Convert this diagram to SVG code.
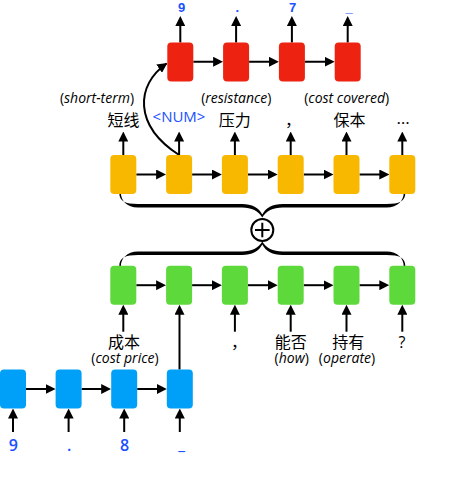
<svg xmlns="http://www.w3.org/2000/svg" width="450" height="486" viewBox="0 0 450 486">
<style>
.red{fill:#ee2211}.yel{fill:#f8b800}.grn{fill:#5dd93b}.blu{fill:#00a0f8}
.ln{stroke:#000;stroke-width:2;fill:none}
.arr{marker-end:url(#ah)}
.t{font-family:"Open Sans","Noto Sans CJK SC",sans-serif;font-size:14px;fill:#000;text-anchor:middle}
.zh{font-family:"Noto Sans CJK SC",sans-serif;font-size:16px;fill:#000;text-anchor:middle}
.en{font-family:"Open Sans","Noto Sans CJK SC",sans-serif;font-size:14px}
.num{font-family:"Open Sans",sans-serif;font-weight:600;fill:#1a50ff;text-anchor:middle}
.top{font-family:"Liberation Sans",sans-serif;font-weight:bold;font-size:13px;fill:#1a50ff;text-anchor:middle}
.it{font-style:italic}
</style>
<defs>
<marker id="ah" viewBox="0 0 10 10" refX="5" refY="5" markerWidth="10" markerHeight="10" markerUnits="userSpaceOnUse" orient="auto"><path d="M0,0 L10,5 L0,10 z" fill="#000"/></marker>
<marker id="ah2" viewBox="0 0 10 10" refX="9" refY="5" markerWidth="10" markerHeight="10" markerUnits="userSpaceOnUse" orient="auto"><path d="M0,0 L10,5 L0,10 z" fill="#000"/></marker>
<path id="brace" d="M119.3,193 C119.3,201 125,204 138,204 L242,204 C252,204 259,208 262.3,214.5 C265.6,208 272.6,204 282.6,204 L386.6,204 C399.6,204 405.3,201 405.3,193 L403.7,193 C403.7,200 398,207.5 386.6,207.5 L282.6,207.5 C273,207.5 266,211 262.3,217.5 C258.6,211 251.6,207.5 242,207.5 L138,207.5 C126.6,207.5 120.9,200 120.9,193 Z" fill="#000"/>
</defs>

<g id="connectors">
<path class="ln arr" d="M193.3,61.75 H218.1"/>
<path class="ln arr" d="M249.1,61.75 H273.9"/>
<path class="ln arr" d="M304.9,61.75 H329.7"/>
<path class="ln arr" d="M180.3,42.5 V21"/>
<path class="ln arr" d="M236.1,42.5 V21"/>
<path class="ln arr" d="M291.9,42.5 V21"/>
<path class="ln arr" d="M347.7,42.5 V21"/>
<path class="ln arr" d="M136.3,174.5 H161.1"/>
<path class="ln arr" d="M192.1,174.5 H216.9"/>
<path class="ln arr" d="M247.9,174.5 H272.7"/>
<path class="ln arr" d="M303.7,174.5 H328.5"/>
<path class="ln arr" d="M359.5,174.5 H384.3"/>
<path class="ln arr" d="M123.3,155 V136.5"/>
<path class="ln arr" d="M179.1,155 V136.5"/>
<path class="ln arr" d="M234.9,155 V136.5"/>
<path class="ln arr" d="M290.7,155 V136.5"/>
<path class="ln arr" d="M346.5,155 V136.5"/>
<path class="ln arr" d="M402.3,155 V136.5"/>
<path class="ln" style="marker-end:url(#ah2)" d="M179.1,155 C133,125 136,85 166.5,63.5"/>
<use href="#brace"/>
<use href="#brace" transform="matrix(1,0,0,-1,0,459)"/>
<circle cx="262.3" cy="230" r="11" fill="#fff" stroke="#000" stroke-width="2"/>
<path class="ln" d="M255,230 H269.6 M262.3,222.7 V237.3"/>
<path class="ln arr" d="M136.3,285.2 H161.1"/>
<path class="ln arr" d="M192.1,285.2 H216.9"/>
<path class="ln arr" d="M247.9,285.2 H272.7"/>
<path class="ln arr" d="M303.7,285.2 H328.5"/>
<path class="ln arr" d="M359.5,285.2 H384.3"/>
<path class="ln arr" d="M123.3,331.7 V309.7"/>
<path class="ln arr" d="M234.9,331.7 V309.7"/>
<path class="ln arr" d="M290.7,331.7 V309.7"/>
<path class="ln arr" d="M346.5,331.7 V309.7"/>
<path class="ln arr" d="M402.3,331.7 V309.7"/>
<path class="ln arr" d="M179.5,369.5 V309.7"/>
<path class="ln arr" d="M26,389 H50.6"/>
<path class="ln arr" d="M81.6,389 H106.2"/>
<path class="ln arr" d="M137.2,389 H161.8"/>
<path class="ln arr" d="M13,432 V413.5"/>
<path class="ln arr" d="M68.6,432 V413.5"/>
<path class="ln arr" d="M124.2,432 V413.5"/>
<path class="ln arr" d="M179.8,432 V413.5"/>
</g>

<g id="decoder">
<rect id="r1" class="red" x="167.3" y="42.5" width="26" height="39" rx="4"/>
<rect id="r2" class="red" x="223.1" y="42.5" width="26" height="39" rx="4"/>
<rect id="r3" class="red" x="278.9" y="42.5" width="26" height="39" rx="4"/>
<rect id="r4" class="red" x="334.7" y="42.5" width="26" height="39" rx="4"/>
<text class="top" x="181.5" y="12">9</text>
<text class="top" x="237.3" y="12">.</text>
<text class="top" x="292.7" y="12">7</text>
<text class="top" x="349" y="12">_</text>
</g>

<g id="yellow">
<rect id="y1" class="yel" x="110.3" y="155" width="26" height="39" rx="4"/>
<rect id="y2" class="yel" x="166.1" y="155" width="26" height="39" rx="4"/>
<rect id="y3" class="yel" x="221.9" y="155" width="26" height="39" rx="4"/>
<rect id="y4" class="yel" x="277.7" y="155" width="26" height="39" rx="4"/>
<rect id="y5" class="yel" x="333.5" y="155" width="26" height="39" rx="4"/>
<rect id="y6" class="yel" x="389.3" y="155" width="26" height="39" rx="4"/>
<text class="t" x="97" y="103">(<tspan class="it">short-term</tspan>)</text>
<text class="t" x="236.3" y="103">(<tspan class="it">resistance</tspan>)</text>
<text class="t" x="346.7" y="103">(<tspan class="it">cost covered</tspan>)</text>
<text class="zh" x="123.5" y="125.5">短线</text>
<text class="t" x="179" y="122.3" style="fill:#1a50ff;font-size:15px">&lt;NUM&gt;</text>
<text class="zh" x="234.7" y="125.5">压力</text>
<text class="zh" x="293" y="125.5">，</text>
<text class="zh" x="349.5" y="125.5">保本</text>
<text class="t" x="403" y="124" style="font-size:17px">…</text>
</g>

<g id="green">
<rect id="g1" class="grn" x="110.3" y="265.7" width="26" height="39" rx="4"/>
<rect id="g2" class="grn" x="166.1" y="265.7" width="26" height="39" rx="4"/>
<rect id="g3" class="grn" x="221.9" y="265.7" width="26" height="39" rx="4"/>
<rect id="g4" class="grn" x="277.7" y="265.7" width="26" height="39" rx="4"/>
<rect id="g5" class="grn" x="333.5" y="265.7" width="26" height="39" rx="4"/>
<rect id="g6" class="grn" x="389.3" y="265.7" width="26" height="39" rx="4"/>
<text class="zh" x="124" y="348">成本<tspan class="en" x="125" y="362.5">(<tspan class="it">cost price</tspan>)</tspan></text>
<text class="zh" x="239" y="348">，</text>
<text class="zh" x="290.8" y="348">能否<tspan class="en" x="291.7" y="362.5">(<tspan class="it">how</tspan>)</tspan></text>
<text class="zh" x="348.3" y="348">持有<tspan class="en" x="347" y="362.5">(<tspan class="it">operate</tspan>)</tspan></text>
<text class="t" x="402" y="348" style="font-size:16px">?</text>
</g>

<g id="encoder">
<rect id="b1" class="blu" x="0" y="369.5" width="26" height="39" rx="4"/>
<rect id="b2" class="blu" x="55.6" y="369.5" width="26" height="39" rx="4"/>
<rect id="b3" class="blu" x="111.2" y="369.5" width="26" height="39" rx="4"/>
<rect id="b4" class="blu" x="166.8" y="369.5" width="26" height="39" rx="4"/>
<text class="num" font-size="16" x="13.3" y="450.7">9</text>
<text class="num" font-size="16" x="69.3" y="450.7">.</text>
<text class="num" font-size="16" x="124.7" y="450.7">8</text>
<text class="num" font-size="16" x="181.7" y="449.5">_</text>
</g>
</svg>
